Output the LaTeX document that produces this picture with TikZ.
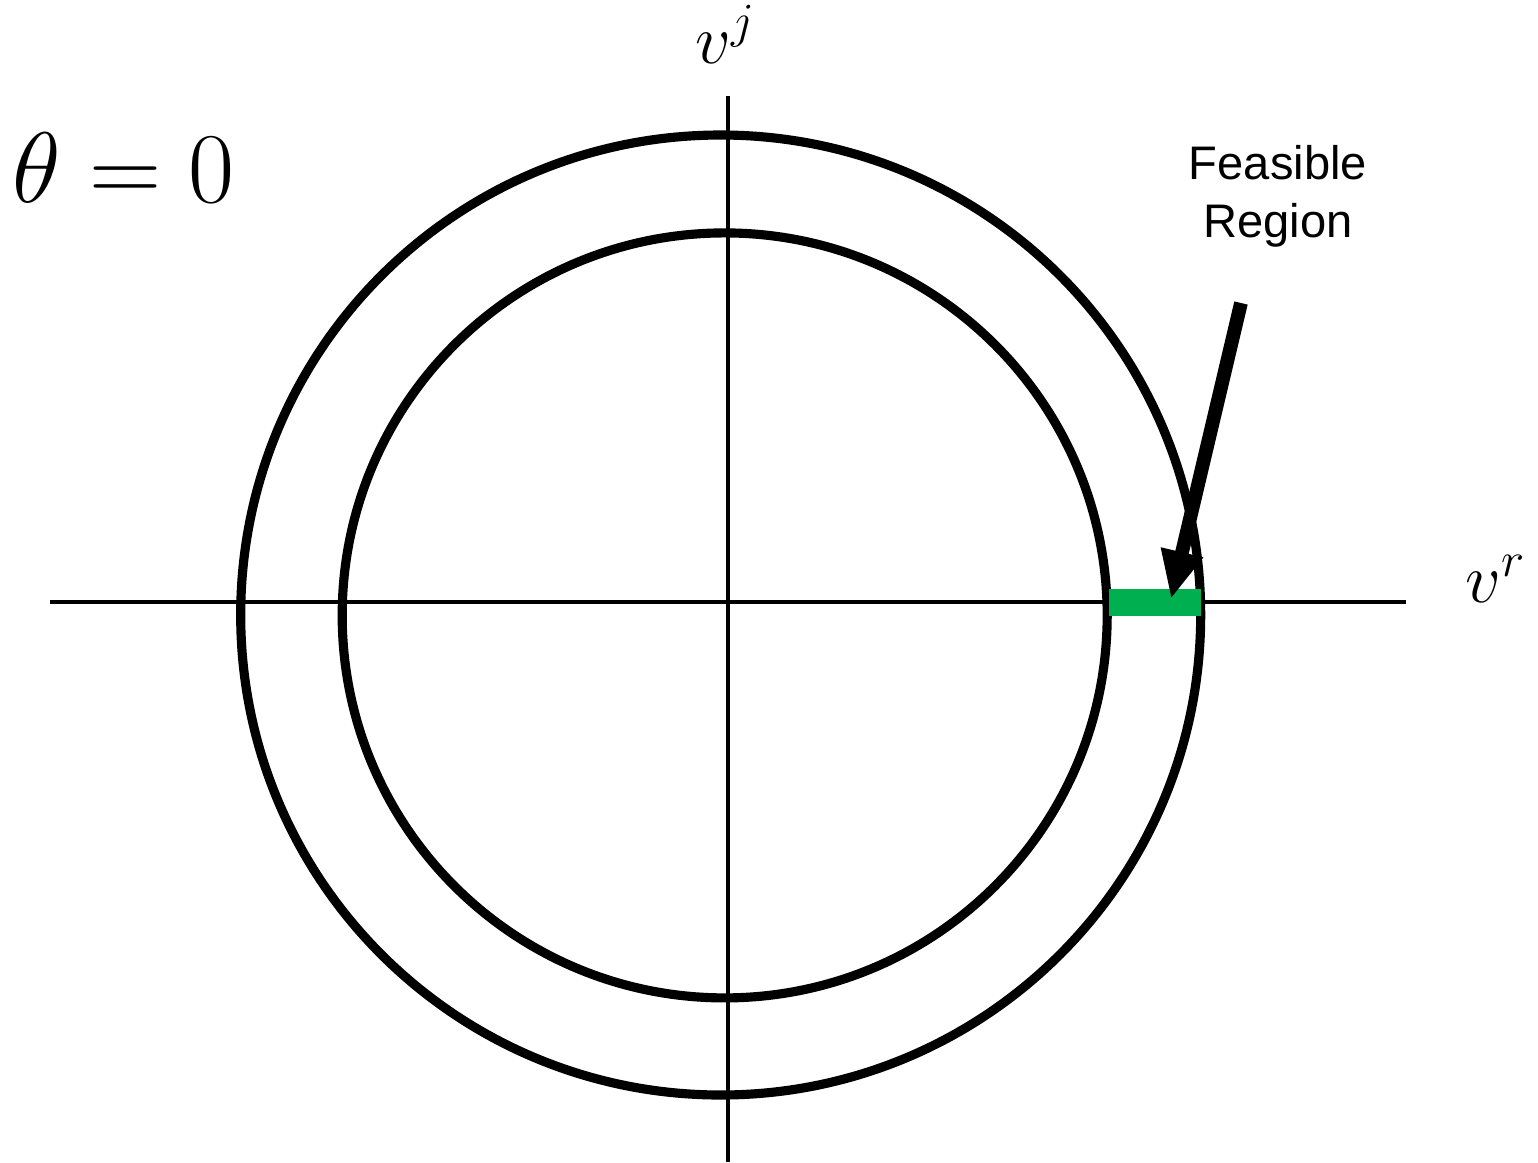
\RequirePackage{fix-cm}
\documentclass[tikz,border=0pt]{standalone}
\usepackage{fontspec}
\newfontfamily\labelfont{Liberation Sans}
\usetikzlibrary{positioning,arrows.meta}
\definecolor{FeasGreen}{RGB}{0,176,80}
\tikzset{
  axis/.style={line width=1.4pt,draw=black},
  ring/.style={line width=2.6pt,draw=black},
  pointer/.style={-{Triangle[length=0.48cm,width=0.40cm]},line width=3.9pt,draw=black},
  axislabel/.style={inner sep=0pt,font=\fontsize{20}{24}\selectfont},
  notelabel/.style={align=center,inner sep=0pt,font=\labelfont\fontsize{13.4}{16.5}\selectfont}
}
\begin{document}
\begin{tikzpicture}
  \useasboundingbox (-7.28,-5.60) rectangle (8.10,6.02);
  % the two circles
  \draw[ring] (-0.073,-0.13) circle (4.80);
  \draw[ring] (-0.033,-0.134) circle (3.825);
  % axes
  \coordinate (xl) at (-6.78,0);
  \coordinate (xr) at (6.78,0);
  \coordinate (yb) at (0,-5.60);
  \coordinate (yt) at (0,5.06);
  \draw[axis] (xl) -- (xr);
  \draw[axis] (yb) -- (yt);
  \node[axislabel,anchor=base west] (vr) at (7.37,0) {$v^r$};
  \node[axislabel,anchor=base] (vj) at (-0.02,5.39) {$v^j$};
  \node[inner sep=0pt,font=\fontsize{28.5}{34}\selectfont] (theta) at (-6.04,4.34) {$\theta=0$};
  % feasible region
  \node[fill=FeasGreen,minimum width=0.92cm,minimum height=0.27cm,inner sep=0pt] (feas) at (4.27,0.0) {};
  \node[notelabel] (note) at (5.50,4.06) {Feasible\\Region};
  \coordinate (tail) at (5.13,2.99);
  \coordinate (tip) at (4.43,0.03);
  \draw[pointer] (tail) -- (tip);
\end{tikzpicture}
\end{document}
